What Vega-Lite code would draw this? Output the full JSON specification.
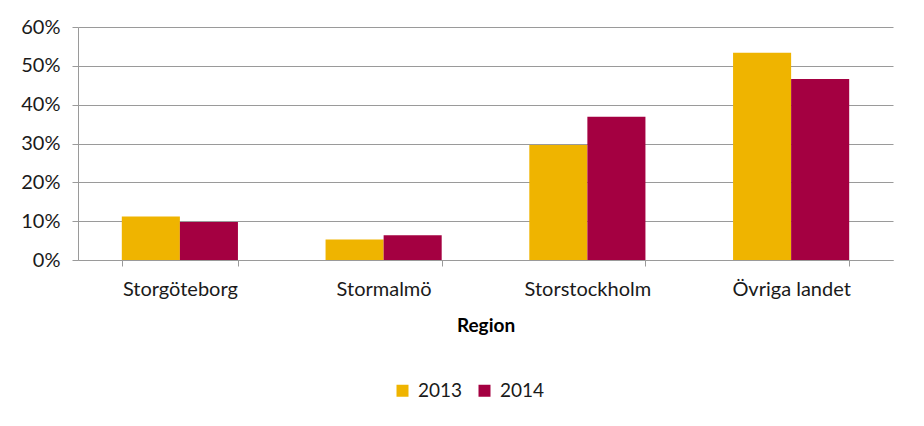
{
  "$schema": "https://vega.github.io/schema/vega-lite/v6.json",
  "width": 815,
  "height": 233,
  "autosize": {"type": "none"},
  "padding": {"left": 78, "top": 27, "right": 31, "bottom": 166},
  "background": "white",
  "data": {
    "values": [
      {"Region": "Storgöteborg", "Year": "2013", "Share": 0.112},
      {"Region": "Storgöteborg", "Year": "2014", "Share": 0.098},
      {"Region": "Stormalmö", "Year": "2013", "Share": 0.053},
      {"Region": "Stormalmö", "Year": "2014", "Share": 0.064},
      {"Region": "Storstockholm", "Year": "2013", "Share": 0.296},
      {"Region": "Storstockholm", "Year": "2014", "Share": 0.369},
      {"Region": "Övriga landet", "Year": "2013", "Share": 0.534},
      {"Region": "Övriga landet", "Year": "2014", "Share": 0.466}
    ]
  },
  "mark": {"type": "bar"},
  "encoding": {
    "x": {
      "field": "Region",
      "type": "nominal",
      "sort": null,
      "scale": {"paddingInner": 0.43, "paddingOuter": 0.215},
      "axis": {
        "title": "Region",
        "titleFont": "Lato",
        "titleFontSize": 19,
        "titleFontWeight": "bold",
        "titleColor": "#000000",
        "titlePadding": 17,
        "labelAngle": 0,
        "labelFont": "Lato",
        "labelFontSize": 20,
        "labelColor": "#1a1a1a",
        "labelPadding": 13,
        "tickBand": "extent",
        "tickSize": 6,
        "tickColor": "#9a9a9a",
        "domainColor": "#9a9a9a",
        "grid": false
      }
    },
    "xOffset": {"field": "Year", "type": "nominal"},
    "y": {
      "field": "Share",
      "type": "quantitative",
      "scale": {"domain": [0, 0.6]},
      "axis": {
        "title": null,
        "format": ".0%",
        "values": [0, 0.1, 0.2, 0.3, 0.4, 0.5, 0.6],
        "labelFont": "Lato",
        "labelFontSize": 20,
        "labelColor": "#1a1a1a",
        "labelPadding": 12,
        "tickSize": 6,
        "tickColor": "#9a9a9a",
        "domainColor": "#9a9a9a",
        "grid": true,
        "gridColor": "#9a9a9a",
        "gridWidth": 1.2
      }
    },
    "color": {
      "field": "Year",
      "type": "nominal",
      "scale": {"domain": ["2013", "2014"], "range": ["#EFB400", "#A40041"]},
      "legend": {
        "title": null,
        "orient": "none",
        "direction": "horizontal",
        "legendX": 315,
        "legendY": 354,
        "symbolType": "square",
        "symbolSize": 144,
        "symbolStrokeWidth": 0,
        "labelFont": "Lato",
        "labelFontSize": 19,
        "labelColor": "#1a1a1a",
        "labelOffset": 6,
        "columnPadding": 12
      }
    }
  },
  "config": {"view": {"stroke": null}}
}
